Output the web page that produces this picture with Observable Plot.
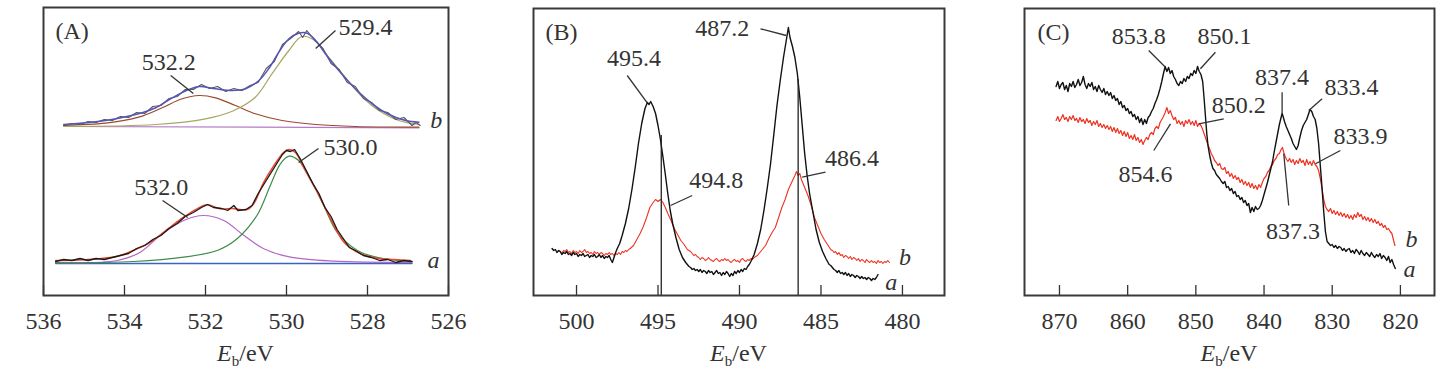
<!DOCTYPE html>
<html>
<head>
<meta charset="utf-8">
<script src="https://cdn.jsdelivr.net/npm/d3@7"></script>
<script src="https://cdn.jsdelivr.net/npm/@observablehq/plot@0.6"></script>
<style>
  body { margin: 0; background: #fff; }
  #wrap { position: relative; width: 1444px; height: 373px; overflow: hidden; }
  .panel { position: absolute; top: 0; }
  .xlab { position: absolute; top: 341px; font-family: "Liberation Serif", "Times New Roman", serif;
          font-size: 24px; line-height: 24px; color: #333; transform: translateX(-50%); white-space: nowrap; }
  .xlab .sub { font-size: 15px; position: relative; top: 5px; }
</style>
</head>
<body>
<div id="wrap"></div>
<script>
// ---------------- Panel A: O 1s (intensity in arbitrary units) ----------------
const ticksA = [536, 534, 532, 530, 528, 526];
// sample b (upper)
const rawB_A = [[535.5,170],[535.3,172],[535.1,171],[534.9,174],[534.7,173],[534.5,176],[534.3,175],[534.1,179],[533.9,178],[533.7,183],[533.5,182],[533.3,189],[533.1,190],[532.9,197],[532.7,199],[532.5,206],[532.3,206],[532.1,211],[531.9,207],[531.7,209],[531.5,204],[531.3,207],[531.1,205],[530.9,210],[530.7,213],[530.5,227],[530.3,234],[530.1,251],[529.9,257],[529.7,264],[529.6,258],[529.5,265],[529.3,255],[529.1,247],[528.9,232],[528.7,226],[528.5,213],[528.3,209],[528.1,197],[527.9,193],[527.7,185],[527.5,183],[527.3,176],[527.1,178],[526.9,170],[526.8,173],[526.7,170]];
const fitB_A = [[535.5,171],[534.47,175],[533.65,181.7],[533.23,187.7],[532.82,197.7],[532.41,206],[532.16,209],[531.75,206.7],[531.34,205],[531.01,206.7],[530.68,215],[530.44,226.7],[530.19,243.3],[529.94,256.7],[529.70,262.3],[529.49,262.3],[529.28,255],[529.04,241.7],[528.71,225],[528.30,206.7],[527.88,191.7],[527.47,181],[527.06,175],[526.73,173.3]];
const peak5322 = [[535.5,170],[534.47,172.3],[533.65,178.3],[533.07,187.7],[532.58,196.7],[532.16,200],[531.75,197.7],[531.26,190],[530.77,181.7],[530.11,175],[529.28,171],[528.30,169],[526.73,168.3]];
const peak5294 = [[535.5,169],[533.23,171],[532.0,176.7],[531.34,184.3],[530.77,198.3],[530.36,221.7],[529.94,245],[529.62,259],[529.28,254.3],[528.96,238.3],[528.55,218.3],[528.14,199],[527.72,185],[527.23,175],[526.73,171]];
const baseB_A = [[535.5,169],[526.73,167.7]];
// sample a (lower)
const rawA_A = [[535.7,34],[535.5,36],[535.3,35],[535.1,37],[534.9,35],[534.7,37],[534.5,36],[534.3,38],[534.1,40],[533.9,42],[533.7,47],[533.5,50],[533.3,56],[533.1,60],[532.9,67],[532.7,72],[532.5,79],[532.3,83],[532.1,88],[531.95,91],[531.8,88],[531.6,87],[531.45,85],[531.3,90],[531.2,85],[531.0,86],[530.85,90],[530.7,102],[530.5,115],[530.3,128],[530.1,141],[530.0,145],[529.9,144],[529.8,146],[529.65,136],[529.5,124],[529.35,112],[529.2,102],[529.05,88],[528.9,79],[528.75,66],[528.6,57],[528.45,48],[528.3,45],[528.1,40],[527.9,38],[527.7,35],[527.5,36],[527.3,33],[527.1,35],[526.9,34]];
const fitA_A = [[535.7,35],[535.0,35.7],[534.18,39.3],[533.69,46.7],[533.36,53.3],[532.95,66],[532.54,78.3],[532.21,86.7],[531.96,90.7],[531.63,86.7],[531.34,87],[530.97,86],[530.81,91.7],[530.56,113.3],[530.31,130],[530.07,143.3],[529.94,146],[529.78,143],[529.57,127.5],[529.24,103.3],[528.91,76.7],[528.58,53.3],[528.17,41.7],[527.76,37.3],[527.35,36],[526.94,35]];
const peak5320 = [[535.7,33],[534.18,35],[533.61,43.3],[533.12,60],[532.54,75],[532.05,80],[531.55,75],[531.05,60],[530.56,46.7],[529.90,38.3],[528.83,34.3],[526.9,33]];
const peak5300 = [[535.7,32.7],[533.77,34],[532.54,38.3],[531.71,45],[531.22,56.7],[530.73,80],[530.40,110],[530.15,131.7],[529.94,139.3],[529.70,135],[529.41,116.7],[529.08,90],[528.75,63.3],[528.25,45],[527.68,37.3],[526.9,34]];
const baseA_A = [[535.7,32],[526.9,32]];
const labelsA = [{x:532.91,y:233,t:"532.2"},{x:528.05,y:268,t:"529.4"},{x:528.42,y:148,t:"530.0"},{x:533.09,y:108,t:"532.0"}];
const leadersA = [[532.86,220,532.30,202],[528.79,265,529.28,247],[529.21,147,529.70,133],[533.06,95,532.44,78]];
const tagsA = [{x:526.30,y:174.7,t:"b"},{x:526.37,y:35,t:"a"}];

// ---------------- Panel B ----------------
const ticksB = [500, 495, 490, 485, 480];
const curveA_B = [[501.5,47],[501.4,45],[501.3,46],[501.2,43],[501.1,45],[501.0,44],[500.9,41],[500.8,43],[500.7,42],[500.6,44],[500.5,41],[500.4,42],[500.3,40],[500.2,43],[500.1,41],[500.0,42],[499.9,39],[499.8,41],[499.7,40],[499.6,42],[499.5,39],[499.4,40],[499.3,41],[499.2,38],[499.1,40],[499.0,39],[498.9,41],[498.8,38],[498.7,39],[498.6,41],[498.5,38],[498.4,40],[498.3,37],[498.2,39],[498.1,38],[498.0,40],[497.9,36],[497.8,33],[497.7,38],[497.6,43],[497.5,47],[497.35,52],[497.2,60],[497.0,72],[496.8,87],[496.6,106],[496.4,128],[496.2,152],[496.0,172],[495.8,187],[495.65,193],[495.55,191],[495.45,194],[495.3,189],[495.15,182],[495.0,170],[494.85,156],[494.7,139],[494.55,121],[494.4,102],[494.25,85],[494.1,72],[493.9,58],[493.7,46],[493.5,38],[493.3,33],[493.2,31],[493.1,29],[493.0,28],[492.9,26],[492.8,27],[492.7,25],[492.6,26],[492.5,24],[492.4,26],[492.3,23],[492.2,25],[492.1,24],[492.0,22],[491.9,25],[491.8,23],[491.7,24],[491.6,21],[491.5,23],[491.4,25],[491.3,22],[491.2,23],[491.1,20],[491.0,23],[490.9,21],[490.8,24],[490.7,22],[490.6,19],[490.5,22],[490.4,20],[490.3,24],[490.2,22],[490.1,25],[490.0,23],[489.9,26],[489.8,24],[489.7,27],[489.6,26],[489.5,29],[489.4,31],[489.3,34],[489.1,41],[488.9,52],[488.7,66],[488.5,85],[488.3,107],[488.1,131],[487.9,160],[487.7,190],[487.5,215],[487.3,238],[487.15,253],[487.0,268],[486.9,258],[486.75,249],[486.6,238],[486.45,222],[486.3,198],[486.15,170],[486.0,142],[485.85,120],[485.7,102],[485.5,84],[485.3,66],[485.1,53],[484.9,44],[484.7,37],[484.5,31],[484.4,30],[484.3,28],[484.2,26],[484.1,25],[484.0,23],[483.9,25],[483.8,22],[483.7,23],[483.6,21],[483.5,23],[483.4,20],[483.3,22],[483.2,19],[483.1,21],[483.0,20],[482.9,18],[482.8,20],[482.7,19],[482.6,17],[482.5,19],[482.4,17],[482.3,18],[482.2,16],[482.1,18],[482.0,17],[481.9,15],[481.8,17],[481.7,16],[481.6,18],[481.5,21]];
const curveB_B = [[501.1,45],[501.0,44],[500.9,42],[500.8,45],[500.7,44],[500.6,46],[500.5,43],[500.4,44],[500.3,42],[500.2,45],[500.1,43],[500.0,44],[499.9,42],[499.8,45],[499.7,43],[499.6,44],[499.5,46],[499.4,43],[499.3,44],[499.2,42],[499.1,43],[499.0,41],[498.9,44],[498.8,42],[498.7,43],[498.6,41],[498.5,43],[498.4,42],[498.3,40],[498.2,42],[498.1,41],[498.0,43],[497.9,41],[497.8,42],[497.7,40],[497.6,42],[497.5,41],[497.4,43],[497.3,41],[497.2,44],[497.1,43],[497.0,45],[496.9,44],[496.8,46],[496.7,47],[496.5,50],[496.3,56],[496.1,62],[495.9,69],[495.7,78],[495.5,88],[495.3,93],[495.15,96],[495.0,94],[494.85,96],[494.7,93],[494.55,88],[494.4,82],[494.2,75],[494.0,67],[493.8,61],[493.6,55],[493.4,51],[493.2,46],[493.0,44],[492.9,42],[492.8,40],[492.7,41],[492.6,39],[492.5,38],[492.4,36],[492.3,38],[492.2,37],[492.1,35],[492.0,36],[491.9,38],[491.8,36],[491.7,35],[491.6,34],[491.5,36],[491.4,37],[491.3,35],[491.2,34],[491.1,36],[491.0,35],[490.9,37],[490.8,35],[490.7,36],[490.6,34],[490.5,33],[490.4,35],[490.3,36],[490.2,34],[490.1,35],[490.0,33],[489.9,36],[489.8,37],[489.7,35],[489.6,34],[489.5,36],[489.4,35],[489.3,37],[489.2,36],[489.1,38],[489.0,39],[488.9,40],[488.8,42],[488.6,46],[488.4,50],[488.2,57],[488.0,63],[487.8,68],[487.6,78],[487.4,88],[487.2,96],[487.0,106],[486.8,113],[486.6,120],[486.5,124],[486.4,120],[486.3,122],[486.2,116],[486.0,108],[485.8,100],[485.6,90],[485.4,78],[485.2,70],[485.0,62],[484.8,56],[484.6,51],[484.4,46],[484.3,45],[484.2,43],[484.1,44],[484.0,41],[483.9,43],[483.8,40],[483.7,41],[483.6,38],[483.5,40],[483.4,39],[483.3,37],[483.2,39],[483.1,36],[483.0,38],[482.9,37],[482.8,35],[482.7,37],[482.6,34],[482.5,36],[482.4,35],[482.3,33],[482.2,36],[482.1,34],[482.0,33],[481.9,35],[481.8,33],[481.7,34],[481.6,32],[481.5,35],[481.4,33],[481.3,34],[481.2,32],[481.1,34],[481.0,33],[480.9,35],[480.8,33]];
const labelsB = [{x:496.48,y:236.7,t:"495.4"},{x:491.06,y:266.7,t:"487.2"},{x:491.42,y:115,t:"494.8"},{x:483.09,y:136.7,t:"486.4"}];
const leadersB = [[496.89,220,495.66,192.7],[488.71,266.7,487.13,260],[492.90,100,494.23,90],[484.72,123.3,486.15,118.3]];
const markersB = [{x:494.8,y1:0,y2:160},{x:486.4,y1:0,y2:216}];
const tagsB = [{x:479.85,y:37.7,t:"b"},{x:480.69,y:12.7,t:"a"}];

// ---------------- Panel C ----------------
const ticksC = [870, 860, 850, 840, 830, 820];
const curveA_C = [[870.5,209],[870.25,214],[870.0,207],[869.75,211],[869.5,213],[869.25,206],[869.0,210],[868.75,204],[868.5,212],[868.25,209],[868.0,214],[867.75,208],[867.5,211],[867.25,216],[867.0,210],[866.75,213],[866.5,219],[866.25,211],[866.0,207],[865.75,212],[865.5,209],[865.25,213],[865.0,206],[864.75,209],[864.5,204],[864.25,210],[864.0,206],[863.75,203],[863.5,207],[863.25,201],[863.0,204],[862.75,200],[862.5,203],[862.25,197],[862.0,200],[861.75,195],[861.5,197],[861.25,191],[861.0,194],[860.75,188],[860.5,190],[860.25,185],[860.0,187],[859.75,182],[859.5,184],[859.25,179],[859.0,181],[858.75,176],[858.5,179],[858.25,173],[858.0,177],[857.75,171],[857.5,176],[857.25,172],[857.0,178],[856.75,180],[856.5,184],[856.25,187],[856.0,192],[855.75,196],[855.5,201],[855.25,207],[855.0,214],[854.75,222],[854.5,229],[854.25,224],[854.0,228],[853.75,222],[853.5,225],[853.25,219],[853.0,216],[852.75,212],[852.5,210],[852.25,214],[852.0,212],[851.75,217],[851.5,214],[851.25,219],[851.0,217],[850.75,222],[850.5,220],[850.25,225],[850.0,222],[849.75,229],[849.5,224],[849.25,221],[849.0,214],[848.8,198],[848.6,180],[848.4,162],[848.2,149],[848.0,141],[847.75,133],[847.5,127],[847.25,125],[847.0,121],[846.75,119],[846.5,117],[846.25,114],[846.0,112],[845.75,114],[845.5,108],[845.25,109],[845.0,105],[844.75,107],[844.5,102],[844.25,104],[844.0,99],[843.75,100],[843.5,96],[843.25,98],[843.0,93],[842.75,95],[842.5,90],[842.25,92],[842.0,83],[841.75,88],[841.5,84],[841.25,89],[841.0,86],[840.75,87],[840.5,90],[840.25,95],[840.0,101],[839.75,107],[839.5,113],[839.25,120],[839.0,127],[838.75,134],[838.5,144],[838.25,153],[838.0,162],[837.75,171],[837.5,178],[837.35,182],[837.2,179],[837.0,174],[836.75,169],[836.5,165],[836.25,161],[836.0,157],[835.75,152],[835.5,149],[835.25,146],[835.0,150],[834.75,158],[834.5,165],[834.25,170],[834.0,173],[833.75,176],[833.5,181],[833.25,186],[833.0,184],[832.75,179],[832.5,176],[832.25,167],[832.0,152],[831.75,130],[831.5,108],[831.25,84],[831.0,64],[830.75,54],[830.5,52],[830.25,50],[830.0,51],[829.75,48],[829.5,50],[829.25,47],[829.0,49],[828.75,48],[828.5,45],[828.25,47],[828.0,44],[827.75,46],[827.5,47],[827.25,43],[827.0,45],[826.75,42],[826.5,46],[826.25,44],[826.0,41],[825.75,45],[825.5,42],[825.25,40],[825.0,43],[824.75,41],[824.5,39],[824.25,43],[824.0,40],[823.75,38],[823.5,41],[823.25,39],[823.0,42],[822.75,37],[822.5,40],[822.25,38],[822.0,35],[821.75,39],[821.5,33],[821.25,36],[821.0,31],[820.75,27]];
const curveB_C = [[870.5,175],[870.25,179],[870.0,174],[869.75,177],[869.5,181],[869.25,176],[869.0,178],[868.75,174],[868.5,179],[868.25,176],[868.0,180],[867.75,175],[867.5,177],[867.25,173],[867.0,178],[866.75,174],[866.5,176],[866.25,172],[866.0,177],[865.75,173],[865.5,175],[865.25,170],[865.0,174],[864.75,171],[864.5,175],[864.25,169],[864.0,172],[863.75,168],[863.5,171],[863.25,167],[863.0,170],[862.75,166],[862.5,169],[862.25,164],[862.0,168],[861.75,163],[861.5,167],[861.25,162],[861.0,165],[860.75,160],[860.5,164],[860.25,159],[860.0,163],[859.75,157],[859.5,160],[859.25,156],[859.0,161],[858.75,155],[858.5,158],[858.25,153],[858.0,156],[857.75,151],[857.5,155],[857.25,158],[857.0,156],[856.75,161],[856.5,163],[856.25,161],[856.0,167],[855.75,169],[855.5,167],[855.25,173],[855.0,176],[854.75,179],[854.5,183],[854.25,188],[854.0,182],[853.75,185],[853.5,180],[853.25,176],[853.0,178],[852.75,172],[852.5,175],[852.25,171],[852.0,174],[851.75,169],[851.5,175],[851.25,172],[851.0,176],[850.75,171],[850.5,174],[850.25,170],[850.0,175],[849.75,169],[849.5,172],[849.25,170],[849.0,166],[848.75,161],[848.5,156],[848.25,151],[848.0,147],[847.75,142],[847.5,139],[847.25,135],[847.0,133],[846.75,130],[846.5,132],[846.25,127],[846.0,126],[845.75,128],[845.5,122],[845.25,124],[845.0,119],[844.75,122],[844.5,117],[844.25,120],[844.0,116],[843.75,118],[843.5,113],[843.25,116],[843.0,111],[842.75,114],[842.5,110],[842.25,113],[842.0,108],[841.75,112],[841.5,107],[841.25,110],[841.0,106],[840.75,111],[840.5,108],[840.25,113],[840.0,117],[839.75,119],[839.5,123],[839.25,125],[839.0,129],[838.75,131],[838.5,135],[838.25,137],[838.0,141],[837.75,142],[837.5,146],[837.3,148],[837.1,143],[836.9,139],[836.7,136],[836.5,134],[836.25,137],[836.0,133],[835.75,136],[835.5,131],[835.25,135],[835.0,132],[834.75,137],[834.5,133],[834.25,135],[834.0,130],[833.75,136],[833.5,131],[833.25,134],[833.0,130],[832.75,135],[832.5,131],[832.25,129],[832.0,125],[831.75,117],[831.5,107],[831.25,96],[831.0,89],[830.75,86],[830.5,84],[830.25,87],[830.0,82],[829.75,85],[829.5,81],[829.25,84],[829.0,80],[828.75,83],[828.5,79],[828.25,82],[828.0,78],[827.75,81],[827.5,77],[827.25,80],[827.0,76],[826.75,81],[826.5,78],[826.25,83],[826.0,79],[825.75,81],[825.5,76],[825.25,79],[825.0,75],[824.75,78],[824.5,74],[824.25,77],[824.0,73],[823.75,76],[823.5,72],[823.25,74],[823.0,70],[822.75,72],[822.5,68],[822.25,70],[822.0,66],[821.75,67],[821.5,64],[821.25,62],[821.0,55],[820.8,50]];
const labelsC = [{x:858.37,y:259.2,t:"853.8"},{x:845.78,y:259.2,t:"850.1"},{x:837.35,y:218.3,t:"837.4"},{x:827.18,y:208.3,t:"833.4"},{x:843.71,y:190,t:"850.2"},{x:857.39,y:121,t:"854.6"},{x:825.87,y:159.2,t:"833.9"},{x:835.76,y:64.2,t:"837.3"}];
const leadersC = [[856.91,245,854.46,228.3],[847.13,243.3,849.33,226.7],[837.35,203.3,837.35,181.7],[831.48,196.7,833.44,185],[845.91,176.7,849.58,171.7],[856.17,145,853.72,171.7],[828.80,145,832.46,131.7],[836.38,90,837.11,141.7]];
const tagsC = [{x:818.39,y:55.7,t:"b"},{x:818.68,y:25.7,t:"a"}];

// ---------------- drawing ----------------
const FONT = '"Liberation Serif", "Times New Roman", serif';
const INK = "#333";
const H = 340, MB = 45;

function line(data, stroke, w) {
  return Plot.line(data, {x: d => d[0], y: d => d[1], stroke, strokeWidth: w, curve: "catmull-rom"});
}
function rawLine(data, stroke, w) {
  return Plot.line(data, {x: d => d[0], y: d => d[1], stroke, strokeWidth: w, strokeLinejoin: "round"});
}
function makePanel({left, width, ml, mr, mt, domain, ticks, yMax, name, dx, lines, labels, leaders, tags, extra = []}) {
  const innerH = H - MB - mt;
  const svg = Plot.plot({
    width, height: H, marginLeft: ml, marginRight: mr, marginTop: mt, marginBottom: MB,
    style: {fontFamily: FONT, fontSize: "24px", color: INK, background: "transparent", overflow: "visible"},
    x: {domain, label: null},
    y: {domain: [0, yMax], axis: null},
    marks: [
      ...lines,
      ...extra,
      Plot.link(leaders, {x1: d => d[0], y1: d => d[1], x2: d => d[2], y2: d => d[3], stroke: INK, strokeWidth: 1.3}),
      Plot.text(labels, {x: "x", y: "y", text: "t", fill: INK}),
      Plot.text(tags, {x: "x", y: "y", text: "t", fill: INK, fontStyle: "italic"}),
      Plot.tickX(ticks, {x: d => d, insetTop: innerH - 10, stroke: INK, strokeWidth: 1.3}),
      Plot.frame({stroke: "#3a3a3a", strokeWidth: 2}),
      Plot.axisX(ticks, {tickSize: 0, tickPadding: 16, fill: INK, tickFormat: d => String(d)}),
      Plot.text([name], {frameAnchor: "top-left", text: d => d, dx, dy: 14, fill: INK})
    ]
  });
  svg.classList.add("panel");
  svg.style.left = left + "px";
  document.getElementById("wrap").appendChild(svg);
  const lab = document.createElement("div");
  lab.className = "xlab";
  lab.style.left = (left + ml + (width - ml - mr) / 2) + "px";
  lab.innerHTML = '<i>E</i><span class="sub">b</span>/eV';
  document.getElementById("wrap").appendChild(lab);
}

makePanel({
  left: 0, width: 490, ml: 43, mr: 42, mt: 7, domain: [536, 526], ticks: ticksA, yMax: 288, name: "(A)", dx: 12,
  lines: [
    line(baseB_A, "#b47cc8", 1.2),
    line(peak5322, "#9a4a2e", 1.2),
    line(peak5294, "#a8a660", 1.2),
    rawLine(rawB_A, "#55555e", 1.1),
    line(fitB_A, "#5555b4", 1.5),
    line(baseA_A, "#3a64c4", 1.3),
    line(peak5320, "#b466c6", 1.2),
    line(peak5300, "#3f8c48", 1.2),
    line(fitA_A, "#f0452a", 1.5),
    rawLine(rawA_A, "#1a1a1a", 1.3)
  ],
  labels: labelsA, leaders: leadersA, tags: tagsA
});

makePanel({
  left: 490, width: 490, ml: 43, mr: 36, mt: 8, domain: [502.64, 477.42], ticks: ticksB, yMax: 287, name: "(B)", dx: 12,
  lines: [
    rawLine(curveB_B, "#ee3322", 1.1),
    rawLine(curveA_B, "#111111", 1.4)
  ],
  extra: [Plot.ruleX(markersB, {x: "x", y1: "y1", y2: "y2", stroke: "#222", strokeWidth: 1.3})],
  labels: labelsB, leaders: leadersB, tags: tagsB
});

makePanel({
  left: 980, width: 464, ml: 44, mr: 10, mt: 8, domain: [875.13, 815.0], ticks: ticksC, yMax: 287, name: "(C)", dx: 13,
  lines: [
    rawLine(curveB_C, "#ee3322", 1.2),
    rawLine(curveA_C, "#111111", 1.4)
  ],
  labels: labelsC, leaders: leadersC, tags: tagsC
});
</script>
</body>
</html>
